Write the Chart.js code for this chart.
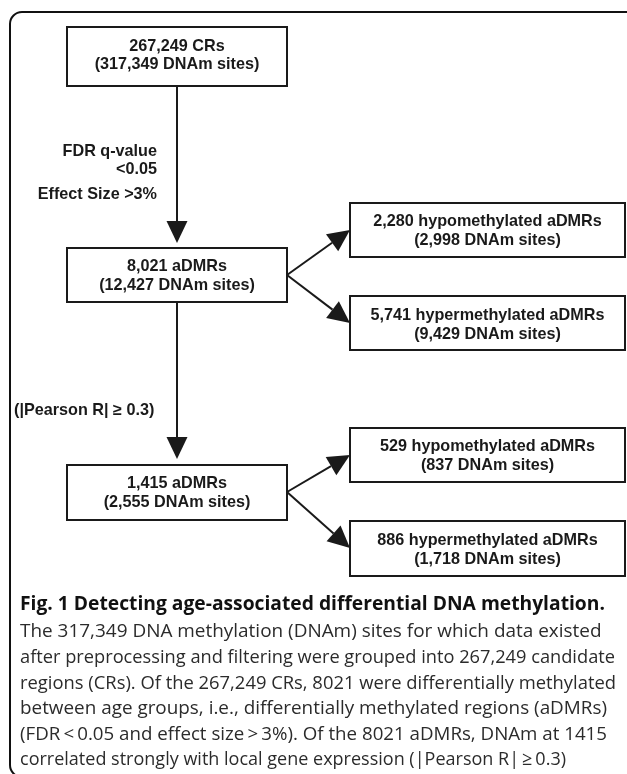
<!DOCTYPE html>
<html>
<head>
<meta charset="utf-8">
<script src="https://cdn.jsdelivr.net/npm/chart.js@4/dist/chart.umd.min.js"></script>
<style>
  html, body { margin: 0; padding: 0; background: #ffffff; }
  #wrap { width: 627px; height: 774px; }
</style>
</head>
<body>
<div id="wrap"><canvas id="c" width="627" height="774"></canvas></div>
<script>
// ---- data (text content of the flowchart) ----
const stageCounts = ["267,249 CRs", "8,021 aDMRs", "1,415 aDMRs"];
const stageSites = ["(317,349 DNAm sites)", "(12,427 DNAm sites)", "(2,555 DNAm sites)"];
const splitCounts = ["2,280 hypomethylated aDMRs", "5,741 hypermethylated aDMRs",
                     "529 hypomethylated aDMRs", "886 hypermethylated aDMRs"];
const splitSites = ["(2,998 DNAm sites)", "(9,429 DNAm sites)", "(837 DNAm sites)", "(1,718 DNAm sites)"];
const filterLabels = ["FDR q-value", "<0.05", "Effect Size >3%"];
const correlationLabel = "(|Pearson R| \u2265 0.3)";
const captionTitle = "Fig. 1 Detecting age-associated differential DNA methylation.";
const captionLines = [
  "The 317,349 DNA methylation (DNAm) sites for which data existed",
  "after preprocessing and filtering were grouped into 267,249 candidate",
  "regions (CRs). Of the 267,249 CRs, 8021 were differentially methylated",
  "between age groups, i.e., differentially methylated regions (aDMRs)",
  "(FDR\u2009<\u20090.05 and effect size\u2009>\u20093%). Of the 8021 aDMRs, DNAm at 1415",
  "correlated strongly with local gene expression (|Pearson R|\u2009\u2265\u20090.3)"
];

// ---- layout (positions in the 627 x 774 coordinate space) ----
const layout = {
  stageBoxes: [[67, 27, 287, 86], [67, 248, 287, 302], [67, 465, 287, 520]],
  splitBoxes: [[350, 203, 625, 257], [350, 296, 625, 350], [350, 428, 625, 482], [350, 521, 625, 576]],
  stageLineY: [[47, 65], [267, 286], [484, 503]],
  splitLineY: [[222, 241], [316, 335], [447, 466], [541, 560]],
  trunkX: 177,
  downArrows: [[86, 243], [302, 459]],
  splits: [{from: [287, 275], to: [[350, 230], [350, 323]]},
           {from: [287, 492], to: [[350, 455], [350, 548]]}],
  filterX: 157, filterY: [152, 170, 195],
  corrX: 14, corrY: 411,
  captionX: 20, captionTitleY: 605, captionY0: 632, captionPitch: 25.6,
  captionTitleWidth: 585, captionWidth: 582,
  captionLineRight: [602, 615, 616, 607, 607, 566]
};

const flowPlugin = {
  id: 'flow',
  afterDraw(chart) {
    const ctx = chart.ctx;
    const xs = chart.scales.x, ys = chart.scales.y;
    const X = v => xs.getPixelForValue(v);
    const Y = v => ys.getPixelForValue(v);
    ctx.save();

    // outer rounded frame
    ctx.strokeStyle = '#111';
    ctx.lineWidth = 2;
    ctx.beginPath();
    if (ctx.roundRect) ctx.roundRect(X(10), Y(12), X(650) - X(10), Y(777) - Y(12), 12);
    else ctx.rect(X(10), Y(12), X(650) - X(10), Y(777) - Y(12));
    ctx.stroke();

    const boxFont = "bold 16.2px 'Liberation Sans', Arial, sans-serif";
    function box(b, lines, ly) {
      ctx.fillStyle = '#fff';
      ctx.fillRect(X(b[0]), Y(b[1]), X(b[2]) - X(b[0]), Y(b[3]) - Y(b[1]));
      ctx.strokeStyle = '#1a1a1a';
      ctx.lineWidth = 2;
      ctx.strokeRect(X(b[0]), Y(b[1]), X(b[2]) - X(b[0]), Y(b[3]) - Y(b[1]));
      ctx.fillStyle = '#1a1a1a';
      ctx.font = boxFont;
      ctx.textAlign = 'center';
      ctx.textBaseline = 'middle';
      const cx = (X(b[0]) + X(b[2])) / 2;
      lines.forEach((t, i) => ctx.fillText(t, cx, Y(ly[i])));
    }
    function arrow(x1, y1, x2, y2) {
      const px1 = X(x1), py1 = Y(y1), px2 = X(x2), py2 = Y(y2);
      const ang = Math.atan2(py2 - py1, px2 - px1);
      const L = 22, W = 10.5;
      const bx = px2 - L * Math.cos(ang), by = py2 - L * Math.sin(ang);
      ctx.strokeStyle = '#1a1a1a';
      ctx.lineWidth = 2;
      ctx.beginPath();
      ctx.moveTo(px1, py1);
      ctx.lineTo(bx, by);
      ctx.stroke();
      ctx.fillStyle = '#1a1a1a';
      ctx.beginPath();
      ctx.moveTo(px2, py2);
      ctx.lineTo(bx + W * Math.sin(ang), by - W * Math.cos(ang));
      ctx.lineTo(bx - W * Math.sin(ang), by + W * Math.cos(ang));
      ctx.closePath();
      ctx.fill();
    }

    // arrows
    layout.downArrows.forEach(a => arrow(layout.trunkX, a[0], layout.trunkX, a[1]));
    layout.splits.forEach(s => s.to.forEach(t => arrow(s.from[0], s.from[1], t[0], t[1])));

    // boxes
    layout.stageBoxes.forEach((b, i) => box(b, [stageCounts[i], stageSites[i]], layout.stageLineY[i]));
    layout.splitBoxes.forEach((b, i) => box(b, [splitCounts[i], splitSites[i]], layout.splitLineY[i]));

    // condition labels
    ctx.fillStyle = '#1a1a1a';
    ctx.font = boxFont;
    ctx.textBaseline = 'middle';
    ctx.textAlign = 'right';
    filterLabels.forEach((t, i) => ctx.fillText(t, X(layout.filterX), Y(layout.filterY[i])));
    ctx.textAlign = 'left';
    ctx.fillText(correlationLabel, X(layout.corrX), Y(layout.corrY));

    // caption
    ctx.textAlign = 'left';
    ctx.textBaseline = 'middle';
    let fs = 18;
    ctx.font = "bold " + fs + "px 'Open Sans', sans-serif";
    fs = fs * (X(layout.captionX + layout.captionTitleWidth) - X(layout.captionX)) / ctx.measureText(captionTitle).width;
    ctx.font = "bold " + fs.toFixed(2) + "px 'Open Sans', sans-serif";
    ctx.fillStyle = '#111';
    ctx.fillText(captionTitle, X(layout.captionX), Y(layout.captionTitleY));

    let bs = 17;
    ctx.font = bs + "px 'Open Sans', sans-serif";
    bs = bs * (X(layout.captionX + layout.captionWidth) - X(layout.captionX)) / ctx.measureText(captionLines[0]).width;
    ctx.font = bs.toFixed(2) + "px 'Open Sans', sans-serif";
    ctx.fillStyle = '#2b2b2b';
    captionLines.forEach((t, i) => {
      const maxW = X(layout.captionLineRight[i]) - X(layout.captionX);
      ctx.fillText(t, X(layout.captionX), Y(layout.captionY0 + i * layout.captionPitch), maxW);
    });

    ctx.restore();
  }
};

new Chart(document.getElementById('c'), {
  type: 'scatter',
  data: { datasets: [{ data: [], pointRadius: 0 }] },
  options: {
    responsive: false,
    animation: false,
    events: [],
    layout: { padding: 0 },
    plugins: { legend: { display: false }, tooltip: { enabled: false } },
    scales: {
      x: { type: 'linear', min: 0, max: 627, display: false },
      y: { type: 'linear', min: 0, max: 774, reverse: true, display: false }
    }
  },
  plugins: [flowPlugin]
});
</script>
</body>
</html>
